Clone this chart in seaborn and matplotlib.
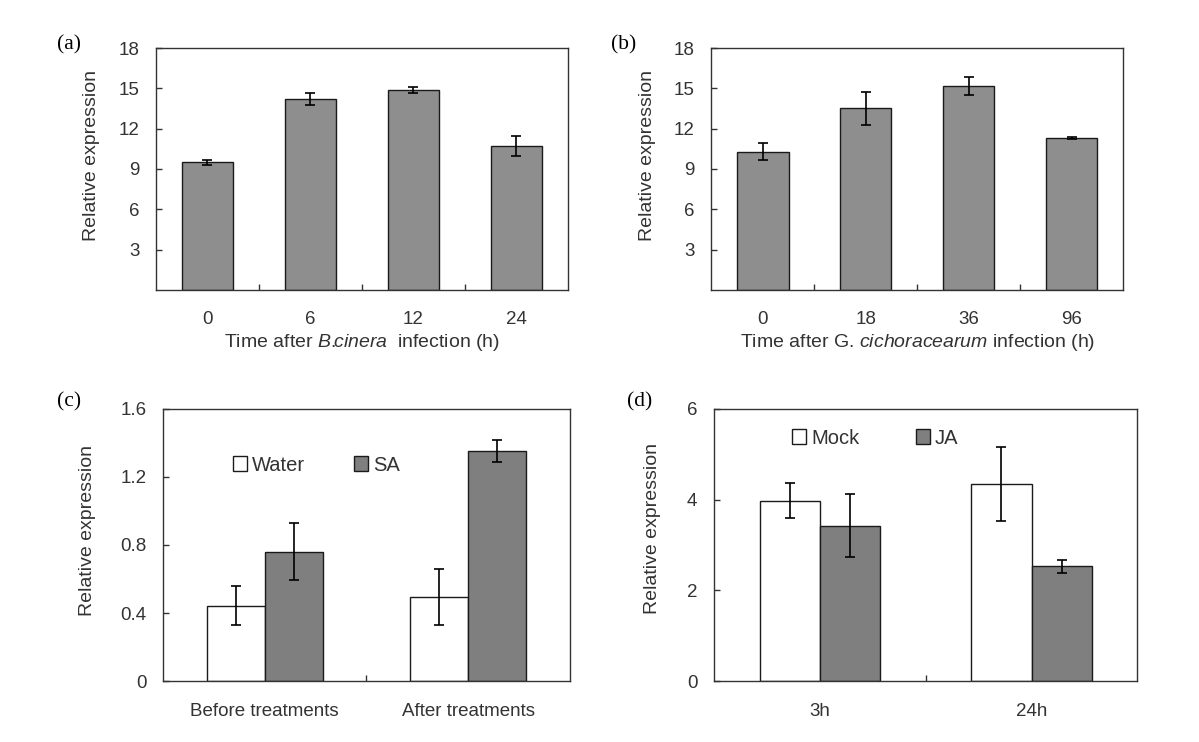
import matplotlib
matplotlib.use("Agg")
import matplotlib.pyplot as plt
import seaborn as sns
import pandas as pd
import numpy as np

# ---------------- data ----------------
a_times = ["0", "6", "12", "24"]
a_values = [9.5, 14.2, 14.9, 10.7]
a_err = [0.2, 0.47, 0.21, 0.76]

b_times = ["0", "18", "36", "96"]
b_values = [10.3, 13.5, 15.2, 11.3]
b_err = [0.66, 1.2, 0.66, 0.06]

c_groups = ["Before treatments", "After treatments"]
c_water = [0.444, 0.493]
c_water_err = [0.116, 0.166]
c_sa = [0.761, 1.354]
c_sa_err = [0.168, 0.064]

d_groups = ["3h", "24h"]
d_mock = [3.98, 4.34]
d_mock_err = [0.38, 0.82]
d_ja = [3.43, 2.53]
d_ja_err = [0.70, 0.14]

# ---------------- style ----------------
sns.set_style("white")
plt.rcParams["font.family"] = ["Liberation Sans", "DejaVu Sans"]
plt.rcParams["mathtext.fontset"] = "custom"
plt.rcParams["mathtext.rm"] = "Liberation Sans"
plt.rcParams["mathtext.it"] = "Liberation Sans:italic"

TXT = "#333333"
SPINE = "#333333"
GREY_AB = "#8e8e8e"
GREY_CD = "#7f7f7f"
FS_TICK = 13.5
FS_LAB = 14
FS_LEG = 14.5

fig = plt.figure(figsize=(11.99, 7.42), dpi=100)
fig.patch.set_facecolor("white")

ax_a = fig.add_axes([0.1301, 0.6092, 0.3436, 0.3261])
ax_b = fig.add_axes([0.5933, 0.6092, 0.3433, 0.3261])
ax_c = fig.add_axes([0.1359, 0.0822, 0.3395, 0.3666])
ax_d = fig.add_axes([0.5955, 0.0822, 0.3532, 0.3666])


def style_axes(ax, n_cat, yticks, yticklabels, ylim, xpad):
    ax.set_ylim(*ylim)
    ax.set_xlim(-0.5, n_cat - 0.5)
    for s in ax.spines.values():
        s.set_visible(True)
        s.set_color(SPINE)
        s.set_linewidth(1.0)
    ax.set_yticks(yticks)
    ax.set_yticklabels(yticklabels)
    ax.tick_params(axis="y", direction="in", length=4, width=1, color=SPINE,
                   labelsize=FS_TICK, labelcolor=TXT, pad=12, left=True, right=False)
    ax.tick_params(axis="x", which="major", length=0, labelsize=FS_TICK,
                   labelcolor=TXT, pad=xpad, bottom=True, top=False)
    ax.set_xticks([i + 0.5 for i in range(n_cat - 1)], minor=True)
    ax.tick_params(axis="x", which="minor", direction="in", length=4, width=1,
                   color=SPINE, bottom=True, top=False)
    ax.set_ylabel("Relative expression", fontsize=FS_LAB, color=TXT)


def add_err_single(ax, values, errs):
    bars = ax.containers[0]
    xs = [b.get_x() + b.get_width() / 2 for b in bars]
    ax.errorbar(xs, values, yerr=errs, fmt="none", ecolor="black",
                elinewidth=1.2, capsize=3.5, capthick=1.2, zorder=5)


def add_err_hue(ax, series_vals, series_errs):
    for cont, vals, errs in zip(ax.containers, series_vals, series_errs):
        xs = [b.get_x() + b.get_width() / 2 for b in cont]
        ax.errorbar(xs, vals, yerr=errs, fmt="none", ecolor="black",
                    elinewidth=1.2, capsize=3.5, capthick=1.2, zorder=5)


# ---------------- (a) ----------------
df_a = pd.DataFrame({"time": a_times, "value": a_values})
sns.barplot(data=df_a, x="time", y="value", order=a_times, color=GREY_AB,
            saturation=1, edgecolor="#1a1a1a", linewidth=1.0, width=0.5,
            errorbar=None, ax=ax_a)
add_err_single(ax_a, a_values, a_err)
style_axes(ax_a, 4, [3, 6, 9, 12, 15, 18], ["3", "6", "9", "12", "15", "18"],
           (0, 18), 15)
ax_a.set_xlabel(r"Time after $\mathit{B.\!\!cinera}$  infection (h)", fontsize=FS_LAB, color=TXT)
ax_a.yaxis.set_label_coords(-0.137, 0.557)
ax_a.xaxis.set_label_coords(0.5, -0.172)

# ---------------- (b) ----------------
df_b = pd.DataFrame({"time": b_times, "value": b_values})
sns.barplot(data=df_b, x="time", y="value", order=b_times, color=GREY_AB,
            saturation=1, edgecolor="#1a1a1a", linewidth=1.0, width=0.5,
            errorbar=None, ax=ax_b)
add_err_single(ax_b, b_values, b_err)
style_axes(ax_b, 4, [3, 6, 9, 12, 15, 18], ["3", "6", "9", "12", "15", "18"],
           (0, 18), 15)
ax_b.set_xlabel(r"Time after G. $\mathit{cichoracearum}$ infection (h)", fontsize=FS_LAB, color=TXT)
ax_b.yaxis.set_label_coords(-0.135, 0.557)
ax_b.xaxis.set_label_coords(0.5, -0.172)

# ---------------- (c) ----------------
df_c = pd.DataFrame({
    "group": c_groups * 2,
    "treat": ["Water"] * 2 + ["SA"] * 2,
    "value": c_water + c_sa,
})
sns.barplot(data=df_c, x="group", y="value", hue="treat", order=c_groups,
            hue_order=["Water", "SA"], palette=["white", GREY_CD], saturation=1,
            edgecolor="#1a1a1a", linewidth=1.0, width=0.57, errorbar=None, ax=ax_c)
add_err_hue(ax_c, [c_water, c_sa], [c_water_err, c_sa_err])
style_axes(ax_c, 2, [0, 0.4, 0.8, 1.2, 1.6], ["0", "0.4", "0.8", "1.2", "1.6"],
           (0, 1.6), 16)
ax_c.set_xlabel("")
ax_c.yaxis.set_label_coords(-0.165, 0.555)
sns.move_legend(ax_c, "center left", bbox_to_anchor=(0.172, 0.794), ncol=2,
                frameon=False, title=None, fontsize=FS_LEG, handlelength=0.7,
                handleheight=0.75, handletextpad=0.25, columnspacing=2.4,
                borderpad=0, borderaxespad=0)
for t in ax_c.get_legend().get_texts():
    t.set_color(TXT)

# ---------------- (d) ----------------
df_d = pd.DataFrame({
    "group": d_groups * 2,
    "treat": ["Mock"] * 2 + ["JA"] * 2,
    "value": d_mock + d_ja,
})
sns.barplot(data=df_d, x="group", y="value", hue="treat", order=d_groups,
            hue_order=["Mock", "JA"], palette=["white", GREY_CD], saturation=1,
            edgecolor="#1a1a1a", linewidth=1.0, width=0.57, errorbar=None, ax=ax_d)
add_err_hue(ax_d, [d_mock, d_ja], [d_mock_err, d_ja_err])
style_axes(ax_d, 2, [0, 2, 4, 6], ["0", "2", "4", "6"], (0, 6), 16)
ax_d.set_xlabel("")
ax_d.yaxis.set_label_coords(-0.126, 0.559)
sns.move_legend(ax_d, "center left", bbox_to_anchor=(0.184, 0.893), ncol=2,
                frameon=False, title=None, fontsize=FS_LEG, handlelength=0.7,
                handleheight=0.75, handletextpad=0.25, columnspacing=2.8,
                borderpad=0, borderaxespad=0)
for t in ax_d.get_legend().get_texts():
    t.set_color(TXT)

# ---------------- panel letters ----------------
for lab, x, y in [("(a)", 68.5, 45), ("(b)", 624, 45), ("(c)", 69, 402), ("(d)", 640, 402)]:
    fig.text(x / 1199, 1 - y / 742, lab, fontsize=15.5, ha="center", va="center",
             family=["Liberation Serif", "DejaVu Serif"], color="black")

fig.savefig("out.png", dpi=100, facecolor="white")
